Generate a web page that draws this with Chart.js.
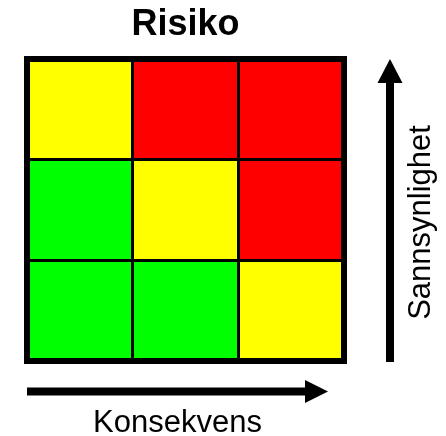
<!DOCTYPE html>
<html>
<head>
<meta charset="utf-8">
<script src="https://cdn.jsdelivr.net/npm/chart.js@4/dist/chart.umd.min.js"></script>
<style>
  html, body { margin: 0; padding: 0; background: #fff; }
  #boks { width: 446px; height: 436px; }
</style>
</head>
<body>
<div id="boks"><canvas id="risiko" width="446" height="436"></canvas></div>
<script>
// Risikomatrise: konsekvens langs x, sannsynlighet langs y (nederst = lav).
const konsekvens = ['Lav', 'Middels', 'Høy'];
const sannsynlighet = ['Lav', 'Middels', 'Høy'];
const celleHoyde = [1, 1, 1];
// risikonivå per rad (sannsynlighet, nedenfra) og kolonne (konsekvens)
const risikoniva = [
  [1, 1, 2],
  [1, 2, 3],
  [2, 3, 3]
];
const farger = { 1: '#00ff00', 2: '#ffff00', 3: '#ff0000' };

const skrift = '"Liberation Sans", Arial, sans-serif';

// Ramme, piler og aksetekster
const pynt = {
  id: 'pynt',
  afterDraw(chart) {
    const ctx = chart.ctx;
    const a = chart.chartArea;
    ctx.save();
    ctx.strokeStyle = '#000';
    ctx.lineWidth = 6;
    ctx.strokeRect(a.left, a.top, a.right - a.left, a.bottom - a.top);

    ctx.fillStyle = '#000';
    // pil mot høyre (konsekvens)
    const py = a.bottom + 30.5;
    ctx.fillRect(a.left, py - 4, 279, 8);
    ctx.beginPath();
    ctx.moveTo(a.left + 278, py - 11.5);
    ctx.lineTo(a.left + 301, py);
    ctx.lineTo(a.left + 278, py + 11.5);
    ctx.closePath();
    ctx.fill();

    // pil oppover (sannsynlighet)
    const px = a.right + 46;
    ctx.fillRect(px - 4, a.top + 23, 8, 280);
    ctx.beginPath();
    ctx.moveTo(px - 12.5, a.top + 24);
    ctx.lineTo(px, a.top);
    ctx.lineTo(px + 12.5, a.top + 24);
    ctx.closePath();
    ctx.fill();

    ctx.font = '31px ' + skrift;
    ctx.textAlign = 'center';
    ctx.textBaseline = 'alphabetic';
    ctx.fillText('Konsekvens', a.left + 150.5, a.bottom + 70.5);

    ctx.translate(a.right + 86, 222.5);
    ctx.rotate(-Math.PI / 2);
    ctx.fillText('Sannsynlighet', 0, 0);
    ctx.restore();
  }
};

const datasett = sannsynlighet.map((rad, i) => ({
  label: rad,
  data: celleHoyde,
  backgroundColor: risikoniva[i].map(n => farger[n]),
  borderWidth: 0,
  inflateAmount: 0,
  barPercentage: 1,
  categoryPercentage: 1
}));

const rutenett = { color: '#000', lineWidth: 3, drawTicks: false, z: 1 };

new Chart(document.getElementById('risiko').getContext('2d'), {
  type: 'bar',
  data: { labels: konsekvens, datasets: datasett },
  options: {
    responsive: false,
    animation: false,
    layout: { padding: { left: 27, right: 102, top: 0, bottom: 75 } },
    plugins: {
      legend: { display: false },
      tooltip: { enabled: false },
      title: {
        display: true,
        text: 'Risiko',
        color: '#000',
        font: { family: skrift, size: 36, weight: 'bold' },
        padding: { top: 3, bottom: 12.8 }
      }
    },
    scales: {
      x: {
        stacked: true,
        grid: Object.assign({ offset: true }, rutenett),
        border: { display: false },
        ticks: { display: false }
      },
      y: {
        stacked: true,
        min: 0,
        max: 3,
        grid: rutenett,
        border: { display: false },
        ticks: { display: false, stepSize: 1 }
      }
    }
  },
  plugins: [pynt]
});
</script>
</body>
</html>
